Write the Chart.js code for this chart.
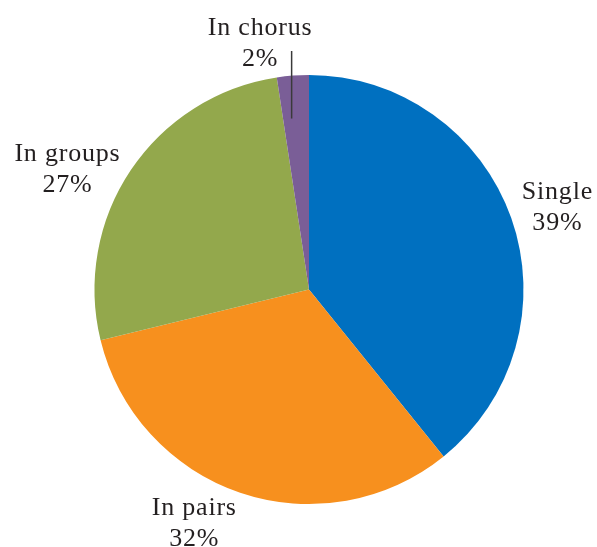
<!DOCTYPE html>
<html>
<head>
<meta charset="utf-8">
<script src="https://cdn.jsdelivr.net/npm/chart.js@4.4.0/dist/chart.umd.min.js"></script>
<style>
  html, body { margin: 0; padding: 0; background: #fff; }
  #wrap { width: 597px; height: 547px; }
</style>
</head>
<body>
<div id="wrap"><canvas id="pieChart" width="597" height="547"></canvas></div>
<script>
const categories = ["Single", "In pairs", "In groups", "In chorus"];
const shares = [39.2, 32.0, 26.4, 2.4];          // slice sizes as measured on the picture
const percentLabels = ["39%", "32%", "27%", "2%"]; // the printed labels
const sliceColors = ["#0070C0", "#F7901E", "#93A84C", "#7A5E97"];

// label centres, in units of the pie radius from the pie centre
const labelPos = [
    { fx: 1.158, fy: -0.386 },
    { fx: -0.535, fy: 1.088 },
    { fx: -1.126, fy: -0.563 },
    { fx: -0.228, fy: -1.149, leader: { fx: -0.081, from: -0.797, to: -1.112 } }
];

// Draws the outside labels (name + percent), with a leader line for the small slice
const outsideLabels = {
    id: "outsideLabels",
    afterDatasetsDraw(chart) {
        const ctx = chart.ctx;
        const meta = chart.getDatasetMeta(0);
        ctx.save();
        ctx.font = "26px 'Liberation Serif', serif";
        ctx.letterSpacing = "0.8px";
        ctx.fillStyle = "#231F20";
        ctx.textAlign = "center";
        ctx.textBaseline = "middle";
        meta.data.forEach((arc, i) => {
            const R = arc.outerRadius;
            const p = labelPos[i];
            const x = arc.x + p.fx * R;
            const y = arc.y + p.fy * R;
            if (p.leader) {
                const lx = arc.x + p.leader.fx * R;
                ctx.strokeStyle = "#3a3a3a";
                ctx.lineWidth = 1.5;
                ctx.beginPath();
                ctx.moveTo(lx, arc.y + p.leader.from * R);
                ctx.lineTo(lx, arc.y + p.leader.to * R);
                ctx.stroke();
            }
            ctx.fillText(categories[i], x, y - 15);
            ctx.fillText(percentLabels[i], x, y + 16);
        });
        ctx.restore();
    }
};

new Chart(document.getElementById("pieChart"), {
    type: "pie",
    data: {
        labels: categories,
        datasets: [{
            data: shares,
            backgroundColor: sliceColors,
            borderWidth: 0
        }]
    },
    options: {
        responsive: false,
        animation: false,
        layout: { padding: { left: 94, right: 73, top: 75, bottom: 43 } },
        plugins: {
            legend: { display: false },
            tooltip: { enabled: false }
        }
    },
    plugins: [outsideLabels]
});
</script>
</body>
</html>
